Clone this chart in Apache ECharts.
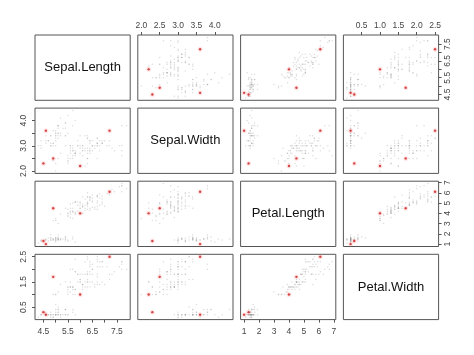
<!DOCTYPE html>
<html><head><meta charset="utf-8">
<script src="https://cdn.jsdelivr.net/npm/echarts@6/dist/echarts.min.js"></script>
<style>html,body{margin:0;padding:0;background:#fff}#c{width:474px;height:355px}</style>
</head><body><div id="c"></div>
<script>
// iris data
var sepalLength=[5.1,4.9,4.7,4.6,5.0,5.4,4.6,5.0,4.4,4.9,5.4,4.8,4.8,4.3,5.8,5.7,5.4,5.1,5.7,5.1,5.4,5.1,4.6,5.1,4.8,5.0,5.0,5.2,5.2,4.7,4.8,5.4,5.2,5.5,4.9,5.0,5.5,4.9,4.4,5.1,5.0,4.5,4.4,5.0,5.1,4.8,5.1,4.6,5.3,5.0,
7.0,6.4,6.9,5.5,6.5,5.7,6.3,4.9,6.6,5.2,5.0,5.9,6.0,6.1,5.6,6.7,5.6,5.8,6.2,5.6,5.9,6.1,6.3,6.1,6.4,6.6,6.8,6.7,6.0,5.7,5.5,5.5,5.8,6.0,5.4,6.0,6.7,6.3,5.6,5.5,5.5,6.1,5.8,5.0,5.6,5.7,5.7,6.2,5.1,5.7,
6.3,5.8,7.1,6.3,6.5,7.6,4.9,7.3,6.7,7.2,6.5,6.4,6.8,5.7,5.8,6.4,6.5,7.7,7.7,6.0,6.9,5.6,7.7,6.3,6.7,7.2,6.2,6.1,6.4,7.2,7.4,7.9,6.4,6.3,6.1,7.7,6.3,6.4,6.0,6.9,6.7,6.9,5.8,6.8,6.7,6.7,6.3,6.5,6.2,5.9];
var sepalWidth=[3.5,3.0,3.2,3.1,3.6,3.9,3.4,3.4,2.9,3.1,3.7,3.4,3.0,3.0,4.0,4.4,3.9,3.5,3.8,3.8,3.4,3.7,3.6,3.3,3.4,3.0,3.4,3.5,3.4,3.2,3.1,3.4,4.1,4.2,3.1,3.2,3.5,3.6,3.0,3.4,3.5,2.3,3.2,3.5,3.8,3.0,3.8,3.2,3.7,3.3,
3.2,3.2,3.1,2.3,2.8,2.8,3.3,2.4,2.9,2.7,2.0,3.0,2.2,2.9,2.9,3.1,3.0,2.7,2.2,2.5,3.2,2.8,2.5,2.8,2.9,3.0,2.8,3.0,2.9,2.6,2.4,2.4,2.7,2.7,3.0,3.4,3.1,2.3,3.0,2.5,2.6,3.0,2.6,2.3,2.7,3.0,2.9,2.9,2.5,2.8,
3.3,2.7,3.0,2.9,3.0,3.0,2.5,2.9,2.5,3.6,3.2,2.7,3.0,2.5,2.8,3.2,3.0,3.8,2.6,2.2,3.2,2.8,2.8,2.7,3.3,3.2,2.8,3.0,2.8,3.0,2.8,3.8,2.8,2.8,2.6,3.0,3.4,3.1,3.0,3.1,3.1,3.1,2.7,3.2,3.3,3.0,2.5,3.0,3.4,3.0];
var petalLength=[1.4,1.4,1.3,1.5,1.4,1.7,1.4,1.5,1.4,1.5,1.5,1.6,1.4,1.1,1.2,1.5,1.3,1.4,1.7,1.5,1.7,1.5,1.0,1.7,1.9,1.6,1.6,1.5,1.4,1.6,1.6,1.5,1.5,1.4,1.5,1.2,1.3,1.4,1.3,1.5,1.3,1.3,1.3,1.6,1.9,1.4,1.6,1.4,1.5,1.4,
4.7,4.5,4.9,4.0,4.6,4.5,4.7,3.3,4.6,3.9,3.5,4.2,4.0,4.7,3.6,4.4,4.5,4.1,4.5,3.9,4.8,4.0,4.9,4.7,4.3,4.4,4.8,5.0,4.5,3.5,3.8,3.7,3.9,5.1,4.5,4.5,4.7,4.4,4.1,4.0,4.4,4.6,4.0,3.3,4.2,4.2,4.2,4.3,3.0,4.1,
6.0,5.1,5.9,5.6,5.8,6.6,4.5,6.3,5.8,6.1,5.1,5.3,5.5,5.0,5.1,5.3,5.5,6.7,6.9,5.0,5.7,4.9,6.7,4.9,5.7,6.0,4.8,4.9,5.6,5.8,6.1,6.4,5.6,5.1,5.6,6.1,5.6,5.5,4.8,5.4,5.6,5.1,5.1,5.9,5.7,5.2,5.0,5.2,5.4,5.1];
var petalWidth=[0.2,0.2,0.2,0.2,0.2,0.4,0.3,0.2,0.2,0.1,0.2,0.2,0.1,0.1,0.2,0.4,0.4,0.3,0.3,0.3,0.2,0.4,0.2,0.5,0.2,0.2,0.4,0.2,0.2,0.2,0.2,0.4,0.1,0.2,0.2,0.2,0.2,0.1,0.2,0.2,0.3,0.3,0.2,0.6,0.4,0.3,0.2,0.2,0.2,0.2,
1.4,1.5,1.5,1.3,1.5,1.3,1.6,1.0,1.3,1.4,1.0,1.5,1.0,1.4,1.3,1.4,1.5,1.0,1.5,1.1,1.8,1.3,1.5,1.2,1.3,1.4,1.4,1.7,1.5,1.0,1.1,1.0,1.2,1.6,1.5,1.6,1.5,1.3,1.3,1.3,1.2,1.4,1.2,1.0,1.3,1.2,1.3,1.3,1.1,1.3,
2.5,1.9,2.1,1.8,2.2,2.1,1.7,1.8,1.8,2.5,2.0,1.9,2.1,2.0,2.4,2.3,1.8,2.2,2.3,1.5,2.3,2.0,2.0,1.8,2.1,1.8,1.8,1.8,2.1,1.6,1.9,2.0,2.2,1.5,1.4,2.3,2.4,1.8,1.8,2.1,2.4,2.3,1.9,2.3,2.5,2.3,1.9,2.0,2.3,1.8];
// highlighted points (red)
var hlSepalLength=[4.5,4.6,4.9,6.0,7.2];
var hlSepalWidth=[2.3,3.6,2.5,2.2,3.6];
var hlPetalLength=[1.3,1.0,4.5,4.0,6.1];
var hlPetalWidth=[0.3,0.2,1.7,1.0,2.5];
var varNames=["Sepal.Length","Sepal.Width","Petal.Length","Petal.Width"];
// ticks and labels
var slTicks=[4.5,5.0,5.5,6.0,6.5,7.0,7.5], slLabels=[4.5,5.5,6.5,7.5];
var swTicks=[2.0,2.5,3.0,3.5,4.0], swLabelsH=[2.0,2.5,3.0,3.5,4.0], swLabelsV=[2.0,3.0,4.0];
var plTicks=[1,2,3,4,5,6,7], plLabels=[1,2,3,4,5,6,7];
var pwTicks=[0.5,1.0,1.5,2.0,2.5], pwLabelsH=[0.5,1.0,1.5,2.0,2.5], pwLabelsV=[0.5,1.5,2.5];

var all=[sepalLength,sepalWidth,petalLength,petalWidth];
var hl=[hlSepalLength,hlSepalWidth,hlPetalLength,hlPetalWidth];
var ticks=[slTicks,swTicks,plTicks,pwTicks];
var labelsH=[slLabels,swLabelsH,plLabels,pwLabelsH];
var labelsV=[slLabels,swLabelsV,plLabels,pwLabelsV];
var decimals=[1,1,0,1];

function ext(a){var mn=Math.min.apply(null,a),mx=Math.max.apply(null,a),d=(mx-mn)*0.04;return [mn-d,mx+d];}
var ranges=all.map(ext);

var L0=35,T0=35,W=95.2,H=65.3,DX=102.8,DY=73.1;
var grids=[],xAxes=[],yAxes=[],series=[],graphics=[];
var font='"Liberation Sans", Arial, sans-serif';
for(var i=0;i<4;i++){for(var j=0;j<4;j++){
  var g=i*4+j;
  grids.push({left:L0+j*DX,top:T0+i*DY,width:W,height:H,show:true,borderColor:'#555',borderWidth:1,backgroundColor:'transparent'});
  var diag=(i===j);
  var xPos=null;
  if(!diag){ if(i===0 && (j===1||j===3)) xPos='top'; if(i===3 && (j===0||j===2)) xPos='bottom'; }
  var yPos=null;
  if(!diag){ if(j===0 && (i===1||i===3)) yPos='left'; if(j===3 && (i===0||i===2)) yPos='right'; }
  (function(j,i,xPos,yPos){
  xAxes.push({gridIndex:g,type:'value',min:ranges[j][0],max:ranges[j][1],position:xPos||'bottom',
    show:!!xPos,axisLine:{show:false},splitLine:{show:false},
    axisTick:{show:!!xPos,customValues:ticks[j],length:3,lineStyle:{color:'#555'}},
    axisLabel:{show:!!xPos,customValues:labelsH[j],margin:(xPos==='bottom'?8:5),fontSize:8.5,color:'#444',fontFamily:font,
      formatter:function(v){return Number(v).toFixed(decimals[j]);}}});
  yAxes.push({gridIndex:g,type:'value',min:ranges[i][0],max:ranges[i][1],position:yPos||'left',
    show:!!yPos,axisLine:{show:false},splitLine:{show:false},
    axisTick:{show:!!yPos,customValues:ticks[i],length:3,lineStyle:{color:'#555'}},
    axisLabel:{show:!!yPos,customValues:labelsV[i],rotate:90,margin:(yPos==='left'?7:5),fontSize:8.5,color:'#444',fontFamily:font,
      formatter:function(v){return Number(v).toFixed(decimals[i]);}}});
  })(j,i,xPos,yPos);
  if(diag){
    graphics.push({type:'text',x:L0+j*DX+W/2,y:T0+i*DY+H/2,style:{text:varNames[i],textAlign:'center',textVerticalAlign:'middle',font:'13px '+font,fill:'#111'}});
  } else {
    var pts=all[j].map(function(v,k){return [v,all[i][k]];});
    var hp=hl[j].map(function(v,k){return [v,hl[i][k]];});
    series.push({type:'scatter',xAxisIndex:g,yAxisIndex:g,data:pts,symbolSize:1.5,itemStyle:{color:'rgba(150,150,150,0.4)'},silent:true});
    series.push({type:'scatter',xAxisIndex:g,yAxisIndex:g,data:hp,symbolSize:5,itemStyle:{color:'rgba(255,100,100,0.2)'},silent:true});
    series.push({type:'scatter',xAxisIndex:g,yAxisIndex:g,data:hp,symbolSize:2.4,itemStyle:{color:'#d02020'},silent:true});
  }
}}
var chart=echarts.init(document.getElementById('c'),null,{renderer:'canvas'});
chart.setOption({animation:false,grid:grids,xAxis:xAxes,yAxis:yAxes,series:series,graphic:graphics});
</script></body></html>
